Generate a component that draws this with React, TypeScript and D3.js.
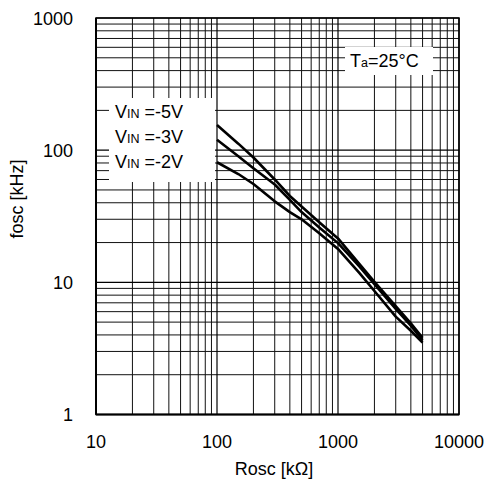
import React from "react";
import * as d3 from "d3";

const xDomain = [10, 10000];
const yDomain = [1, 1000];
const xTicks = [10, 100, 1000, 10000];
const yTicks = [1, 10, 100, 1000];

const rosc = [100, 150, 200, 300, 400, 500, 700, 1000, 1500, 2000, 3000, 4000, 5000];
const vin5 = [155, 112, 88, 60, 45, 37.5, 28.5, 21.5, 13.8, 10.1, 6.6, 4.9, 3.8];
const vin3 = [120, 90, 73, 55, 42, 34, 26, 19.8, 13.2, 9.7, 6.3, 4.7, 3.65];
const vin2 = [81, 66, 55.5, 41, 34, 30, 23.5, 17.9, 11.8, 8.6, 5.5, 4.3, 3.5];

const seriesLabels = ["-5V", "-3V", "-2V"];

const L = 96, R = 459, T = 18, B = 414.5;

export default function App() {
  const x = d3.scaleLog().domain(xDomain).range([L, R]);
  const y = d3.scaleLog().domain(yDomain).range([B, T]);
  const minorX: number[] = [];
  const minorY: number[] = [];
  for (let d = 10; d < 10000; d *= 10) for (let k = 2; k <= 9; k++) minorX.push(d * k);
  for (let d = 1; d < 1000; d *= 10) for (let k = 2; k <= 9; k++) minorY.push(d * k);
  const line = d3
    .line<[number, number]>()
    .x((p) => x(p[0]))
    .y((p) => y(p[1]));
  const series = [vin5, vin3, vin2];
  const font = "'Liberation Sans', Arial, sans-serif";
  return (
    <svg
      width={485}
      height={485}
      style={{ position: "absolute", left: 0, top: 0, background: "#fff" }}
      fontFamily={font}
    >
      <rect x={0} y={0} width={485} height={485} fill="#fff" />
      {minorX.map((v) => (
        <line key={"mx" + v} x1={x(v)} x2={x(v)} y1={T} y2={B} stroke="#111" strokeWidth={1} />
      ))}
      {minorY.map((v) => (
        <line key={"my" + v} x1={L} x2={R} y1={y(v)} y2={y(v)} stroke="#111" strokeWidth={1} />
      ))}
      {xTicks.map((v) => (
        <line key={"Mx" + v} x1={x(v)} x2={x(v)} y1={T} y2={B} stroke="#000" strokeWidth={1.2} />
      ))}
      {yTicks.map((v) => (
        <line key={"My" + v} x1={L} x2={R} y1={y(v)} y2={y(v)} stroke="#000" strokeWidth={1.2} />
      ))}
      <rect x={L} y={T} width={R - L} height={B - T} fill="none" stroke="#000" strokeWidth={1.5} />
      <line x1={L} x2={L} y1={T} y2={B} stroke="#000" strokeWidth={2} />
      <line x1={L} x2={R} y1={B} y2={B} stroke="#000" strokeWidth={2} />

      {/* legend boxes */}
      <rect x={109} y={98} width={106} height={84} fill="#fff" />
      <rect x={345} y={47} width={88} height={28} fill="#fff" />

      {series.map((s, i) => (
        <path
          key={"s" + i}
          d={line(rosc.map((r, j) => [r, s[j]] as [number, number])) || ""}
          fill="none"
          stroke="#000"
          strokeWidth={2.6}
          strokeLinejoin="round"
        />
      ))}

      {seriesLabels.map((lab, i) => (
        <text key={"l" + i} x={115} y={118 + i * 25} fontSize={18} fill="#000">
          <tspan>V</tspan>
          <tspan fontSize={12.5}>IN</tspan>
          <tspan>{" =" + lab}</tspan>
        </text>
      ))}
      <text x={350} y={67} fontSize={18} fill="#000">
        <tspan>T</tspan>
        <tspan fontSize={12.5}>a</tspan>
        <tspan>=25°C</tspan>
      </text>

      {yTicks.map((v) => (
        <text key={"yt" + v} x={73} y={y(v) + 6.5} fontSize={18} textAnchor="end" fill="#000">
          {String(v)}
        </text>
      ))}
      {xTicks.map((v) => (
        <text key={"xt" + v} x={x(v)} y={448} fontSize={18} textAnchor="middle" fill="#000">
          {String(v)}
        </text>
      ))}
      <text x={274} y={475} fontSize={18} textAnchor="middle" fill="#000">
        Rosc [kΩ]
      </text>
      <text
        transform={`translate(18,199) rotate(-90)`}
        fontSize={18}
        textAnchor="middle"
        dominantBaseline="middle"
        fill="#000"
      >
        fosc [kHz]
      </text>
    </svg>
  );
}
